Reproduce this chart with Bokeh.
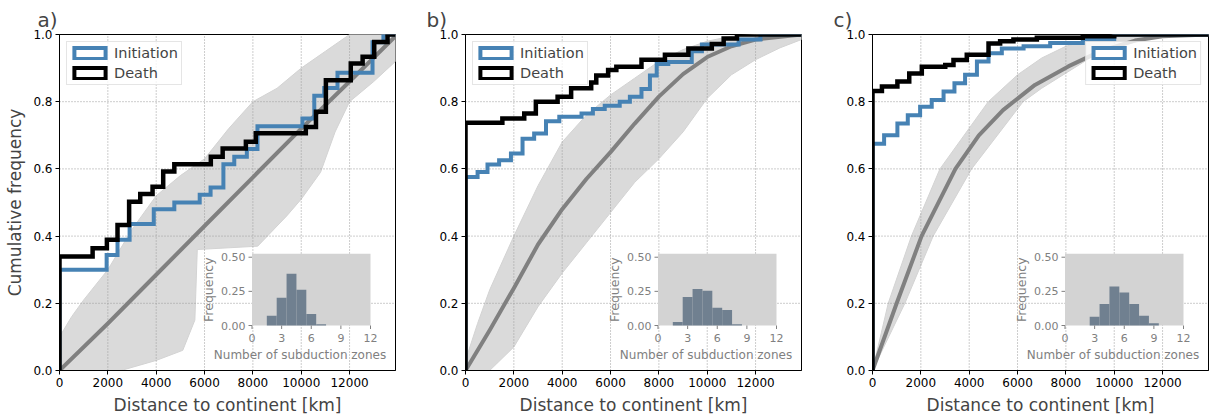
from bokeh.plotting import figure
from bokeh.layouts import row
from bokeh.models import Range1d, FixedTicker, Legend, LegendItem
from bokeh.core.properties import value
from bokeh.embed import file_html
from bokeh.resources import INLINE
import math

FONT = "DejaVu Sans"
BLUE = "#4682b4"
BAND = "#d3d3d3"
MEAN = "#808080"
BAR = "#708090"
INSET_TXT = "#808080"

X_MAX = 13900
x_ticks = [0, 2000, 4000, 6000, 8000, 10000, 12000]
x_tick_labels = ["0", "2000", "4000", "6000", "8000", "10000", "12000"]
y_ticks = [0.0, 0.2, 0.4, 0.6, 0.8, 1.0]
y_tick_labels = ["0.0", "0.2", "0.4", "0.6", "0.8", "1.0"]
inset_x_ticks = [0, 3, 6, 9, 12]
inset_x_tick_labels = ["0", "3", "6", "9", "12"]
inset_y_ticks = [0.0, 0.25, 0.5]
inset_y_tick_labels = ["0.00", "0.25", "0.50"]
inset_x_lim = [0, 12]
inset_y_lim = [0, 0.525]

# ---------------- panel a ----------------
a_init_x = [0, 1950, 2400, 2900, 3900, 4750, 5800, 6250, 6780, 7230, 7750, 8190, 10050, 10540, 10950, 11500, 12950, 13400]
a_init_y = [0.30, 0.344, 0.389, 0.436, 0.48, 0.50, 0.523, 0.545, 0.614, 0.636, 0.659, 0.727, 0.75, 0.818, 0.841, 0.886, 0.977, 1.0]
a_death_x = [0, 1370, 1960, 2400, 2880, 3340, 3850, 4290, 4750, 6260, 6750, 7710, 8120, 10190, 10610, 11020, 12050, 12540, 13020, 13570]
a_death_y = [0.339, 0.364, 0.389, 0.433, 0.502, 0.525, 0.547, 0.592, 0.614, 0.636, 0.661, 0.681, 0.706, 0.725, 0.770, 0.864, 0.914, 0.934, 0.978, 1.0]
a_mean_x = [0, 2000, 4000, 6000, 8000, 10000, 12000, 13900]
a_mean_y = [0, 0.14, 0.285, 0.43, 0.575, 0.72, 0.86, 0.995]
a_up_x = [0, 500, 1000, 2000, 3000, 4000, 5000, 6000, 7000, 8000, 9000, 10000, 11000, 12000, 13900]
a_up_y = [0.10, 0.16, 0.21, 0.30, 0.42, 0.52, 0.58, 0.63, 0.72, 0.80, 0.84, 0.90, 0.95, 1.0, 1.0]
a_lo_x = [0, 2550, 4000, 5100, 5600, 5700, 8200, 9400, 10000, 10800, 11400, 12000, 13000, 13900]
a_lo_y = [0, 0.0, 0.03, 0.06, 0.15, 0.36, 0.37, 0.46, 0.51, 0.59, 0.71, 0.80, 0.86, 0.92]
a_hist_n = [2, 3, 4, 5, 6, 7]
a_hist_f = [0.071, 0.204, 0.379, 0.261, 0.084, 0.010]

# ---------------- panel b ----------------
b_init_x = [0, 500, 910, 1390, 1880, 2360, 2840, 3330, 3880, 4800, 5270, 5760, 6380, 6800, 7280, 7630, 7910, 8390, 9360, 9780, 11300, 12200]
b_init_y = [0.576, 0.591, 0.613, 0.626, 0.646, 0.690, 0.705, 0.742, 0.755, 0.765, 0.778, 0.788, 0.80, 0.815, 0.838, 0.878, 0.912, 0.918, 0.950, 0.970, 0.985, 1.0]
b_death_x = [0, 1525, 2430, 2910, 3810, 4370, 5200, 5410, 5900, 6240, 7280, 8250, 9220, 10190, 10680, 11230]
b_death_y = [0.737, 0.75, 0.765, 0.80, 0.815, 0.84, 0.857, 0.878, 0.894, 0.904, 0.925, 0.94, 0.958, 0.972, 0.988, 1.0]
b_mean_x = [0, 1000, 2000, 3000, 4000, 5000, 6000, 7000, 8000, 9000, 10000, 11000, 12000, 13900]
b_mean_y = [0, 0.12, 0.245, 0.375, 0.48, 0.57, 0.65, 0.735, 0.815, 0.882, 0.933, 0.965, 0.985, 1.0]
b_up_x = [0, 500, 1000, 2000, 3000, 4000, 5000, 6000, 7000, 8000, 9000, 10000, 11000, 12000, 13900]
b_up_y = [0.03, 0.14, 0.24, 0.40, 0.55, 0.68, 0.76, 0.82, 0.87, 0.92, 0.955, 0.98, 0.995, 1.0, 1.0]
b_lo_x = [0, 1000, 2000, 3000, 4000, 5000, 6000, 7000, 8000, 9000, 10000, 11000, 12000, 13000, 13900]
b_lo_y = [0, 0.0, 0.07, 0.19, 0.29, 0.38, 0.47, 0.56, 0.63, 0.71, 0.81, 0.88, 0.925, 0.96, 0.985]
b_hist_n = [2, 3, 4, 5, 6, 7, 8]
b_hist_f = [0.025, 0.209, 0.268, 0.254, 0.130, 0.113, 0.010]

# ---------------- panel c ----------------
c_init_x = [0, 480, 1030, 1460, 1970, 2450, 2940, 3390, 3830, 4320, 4800, 5350, 6250, 7350, 8700, 10000]
c_init_y = [0.675, 0.70, 0.735, 0.76, 0.785, 0.805, 0.83, 0.855, 0.88, 0.92, 0.944, 0.958, 0.965, 0.975, 0.985, 1.0]
c_death_x = [0, 390, 1030, 1520, 2040, 3010, 3350, 3900, 4800, 5280, 5830, 6800, 8700, 10000]
c_death_y = [0.832, 0.845, 0.86, 0.884, 0.904, 0.909, 0.924, 0.94, 0.973, 0.98, 0.985, 0.99, 0.995, 1.0]
c_mean_x = [0, 1000, 2030, 3430, 4400, 5400, 6720, 8100, 9480, 10860, 12000, 13900]
c_mean_y = [0, 0.20, 0.40, 0.60, 0.70, 0.775, 0.85, 0.905, 0.952, 0.982, 0.995, 1.0]
c_up_x = [0, 650, 1610, 2790, 4790, 6000, 7000, 8000, 9000, 10000, 13900]
c_up_y = [0, 0.20, 0.40, 0.60, 0.80, 0.88, 0.93, 0.965, 0.985, 1.0, 1.0]
c_lo_x = [0, 1340, 2510, 4100, 6230, 7000, 8000, 9000, 10000, 11000, 12000, 13900]
c_lo_y = [0, 0.20, 0.40, 0.60, 0.80, 0.84, 0.885, 0.93, 0.96, 0.98, 0.993, 1.0]
c_hist_n = [3, 4, 5, 6, 7, 8, 9]
c_hist_f = [0.064, 0.158, 0.286, 0.241, 0.158, 0.071, 0.017]

FRAME_W = 336
FRAME_H = 336
# inset geometry in frame pixels
IN_L = 192.5
IN_W = 118.5
IN_B = 45.0
IN_H = 71.7

NAN = float("nan")


def make_panel(tag, init_x, init_y, death_x, death_y, mean_x, mean_y,
               up_x, up_y, lo_x, lo_y, hist_n, hist_f, ylabel, legend_loc,
               border_right, title_offset):
    p = figure(frame_width=FRAME_W, frame_height=FRAME_H,
               x_range=Range1d(0, X_MAX), y_range=Range1d(0, 1),
               output_backend="svg", toolbar_location=None,
               min_border_left=59, min_border_right=border_right,
               min_border_top=34, min_border_bottom=46,
               title=tag)
    p.title.text_font = FONT
    p.title.text_font_size = "20px"
    p.title.text_font_style = "normal"
    p.title.align = "left"
    p.title.offset = title_offset
    p.title.standoff = 5

    p.xgrid.visible = False
    p.ygrid.visible = False
    p.outline_line_color = "black"
    p.outline_line_width = 1
    p.background_fill_color = "white"
    p.border_fill_color = "white"

    for ax in (p.xaxis[0], p.yaxis[0]):
        ax.axis_line_color = "black"
        ax.major_tick_line_color = "black"
        ax.major_tick_out = 4
        ax.major_tick_in = 0
        ax.minor_tick_line_color = None
        ax.major_label_text_font = FONT
        ax.major_label_text_font_size = "12px"
        ax.major_label_text_color = "black"
        ax.axis_label_text_font = FONT
        ax.axis_label_text_font_size = "17px"
        ax.axis_label_text_font_style = "normal"
        ax.major_label_standoff = 3
    p.xaxis.ticker = FixedTicker(ticks=x_ticks)
    p.xaxis.major_label_overrides = dict(zip(x_ticks, x_tick_labels))
    p.yaxis.ticker = FixedTicker(ticks=y_ticks)
    p.yaxis.major_label_overrides = dict(zip(y_ticks, y_tick_labels))
    p.xaxis.axis_label = "Distance to continent [km]"
    p.xaxis.axis_label_standoff = 5
    if ylabel:
        p.yaxis.axis_label = "Cumulative frequency"
        p.yaxis.axis_label_standoff = 5

    # envelope of simulated curves
    p.patch(x=list(up_x) + list(reversed(lo_x)), y=list(up_y) + list(reversed(lo_y)),
            fill_color=BAND, fill_alpha=0.85, line_color=BAND, line_width=1)

    # grid lines (dotted) above band
    gx = [t for t in x_ticks if 0 < t < X_MAX]
    gy = [t for t in y_ticks if 0 < t < 1]
    p.multi_line(xs=[[t, t] for t in gx] + [[0, X_MAX] for _ in gy],
                 ys=[[0, 1] for _ in gx] + [[t, t] for t in gy],
                 line_color="#9a9a9a", line_width=1, line_dash="1 2")

    # mean of simulations
    p.line(mean_x, mean_y, line_color=MEAN, line_width=4, line_join="round")

    # observed step curves
    p.step([0] + list(init_x) + [X_MAX], [0] + list(init_y) + [1.0], mode="after",
           line_color=BLUE, line_width=4, line_join="miter")
    p.step([0] + list(death_x) + [X_MAX], [0] + list(death_y) + [1.0], mode="after",
           line_color="black", line_width=4.5, line_join="miter")

    # legend proxies (no visible data)
    r1 = p.rect(x=[NAN], y=[NAN], width=1, height=1, fill_color="white",
                line_color=BLUE, line_width=4, line_join="miter")
    r2 = p.rect(x=[NAN], y=[NAN], width=1, height=1, fill_color="white",
                line_color="black", line_width=4, line_join="miter")
    leg = Legend(items=[LegendItem(label="Initiation", renderers=[r1]),
                        LegendItem(label="Death", renderers=[r2])],
                 location=legend_loc, margin=7, padding=3, spacing=4,
                 glyph_width=39, glyph_height=14, label_standoff=5,
                 label_text_font=FONT, label_text_font_size="14.5px",
                 border_line_color="#cccccc", border_line_width=1,
                 background_fill_color="white", background_fill_alpha=0.8)
    p.add_layout(leg)

    # ---- inset histogram on extra ranges ----
    sx = IN_W / (inset_x_lim[1] - inset_x_lim[0])
    sy = IN_H / (inset_y_lim[1] - inset_y_lim[0])
    ix0 = inset_x_lim[0] - IN_L / sx
    ix1 = inset_x_lim[0] + (FRAME_W - IN_L) / sx
    iy0 = inset_y_lim[0] - IN_B / sy
    iy1 = inset_y_lim[0] + (FRAME_H - IN_B) / sy
    p.extra_x_ranges = {"ix": Range1d(ix0, ix1)}
    p.extra_y_ranges = {"iy": Range1d(iy0, iy1)}
    kw = dict(x_range_name="ix", y_range_name="iy")

    p.quad(left=[inset_x_lim[0]], right=[inset_x_lim[1]],
           bottom=[inset_y_lim[0]], top=[inset_y_lim[1]],
           fill_color=BAND, line_color=None, **kw)
    p.vbar(x=hist_n, width=1, top=hist_f, bottom=0, fill_color=BAR,
           line_color=None, **kw)

    tl = 3.5
    p.segment(x0=[inset_x_lim[0]] * len(inset_y_ticks), y0=inset_y_ticks,
              x1=[inset_x_lim[0] - tl / sx] * len(inset_y_ticks), y1=inset_y_ticks,
              line_color=INSET_TXT, line_width=1, **kw)
    p.segment(x0=inset_x_ticks, y0=[inset_y_lim[0]] * len(inset_x_ticks),
              x1=inset_x_ticks, y1=[inset_y_lim[0] - tl / sy] * len(inset_x_ticks),
              line_color=INSET_TXT, line_width=1, **kw)
    p.text(x=[inset_x_lim[0] - 6.5 / sx] * len(inset_y_ticks), y=inset_y_ticks,
           text=inset_y_tick_labels, text_align="right", text_baseline="middle",
           text_color=INSET_TXT, text_font=value(FONT), text_font_size="11px", **kw)
    p.text(x=inset_x_ticks, y=[inset_y_lim[0] - 12 / sy] * len(inset_x_ticks),
           text=inset_x_tick_labels, text_align="center", text_baseline="middle",
           text_color=INSET_TXT, text_font=value(FONT), text_font_size="11px", **kw)
    p.text(x=[inset_x_lim[0] - 43.5 / sx], y=[(inset_y_lim[0] + inset_y_lim[1]) / 2],
           text=["Frequency"], angle=math.pi / 2, text_align="center",
           text_baseline="middle", text_color=INSET_TXT, text_font=value(FONT),
           text_font_size="12.5px", **kw)
    p.text(x=[inset_x_lim[0] + 48 / sx], y=[inset_y_lim[0] - 29.5 / sy],
           text=["Number of subduction zones"], text_align="center",
           text_baseline="middle", text_color=INSET_TXT, text_font=value(FONT),
           text_font_size="12px", **kw)
    return p


pa = make_panel("a)", a_init_x, a_init_y, a_death_x, a_death_y, a_mean_x, a_mean_y,
                a_up_x, a_up_y, a_lo_x, a_lo_y, a_hist_n, a_hist_f, True, "top_left", 11, -22)
pb = make_panel("b)", b_init_x, b_init_y, b_death_x, b_death_y, b_mean_x, b_mean_y,
                b_up_x, b_up_y, b_lo_x, b_lo_y, b_hist_n, b_hist_f, False, "top_left", 12, -39)
pc = make_panel("c)", c_init_x, c_init_y, c_death_x, c_death_y, c_mean_x, c_mean_y,
                c_up_x, c_up_y, c_lo_x, c_lo_y, c_hist_n, c_hist_f, False, "top_right", 4, -39)

layout = row(pa, pb, pc, spacing=0)
open("out.html", "w").write(file_html(layout, INLINE))
